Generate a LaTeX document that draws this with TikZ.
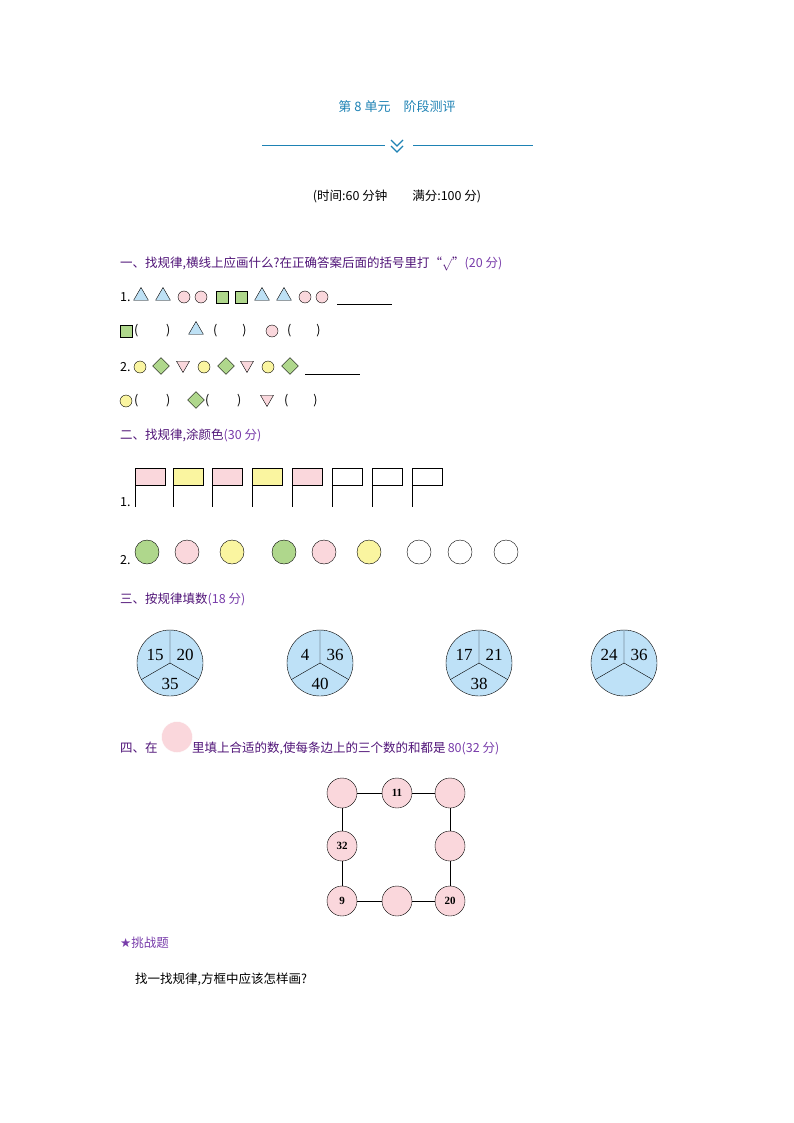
\documentclass[tikz,border=0pt]{standalone}
\usepackage{fontspec}
\setmainfont{Liberation Serif}
\newfontfamily\cjk{Noto Sans CJK SC}
\usetikzlibrary{shapes.geometric}
\definecolor{teal1}{RGB}{30,130,180}
\definecolor{purp}{RGB}{80,20,120}
\definecolor{purl}{RGB}{120,60,170}
\definecolor{tblue}{RGB}{190,225,245}
\definecolor{tpink}{RGB}{250,215,220}
\definecolor{tgreen}{RGB}{175,215,140}
\definecolor{tyel}{RGB}{250,245,160}
\definecolor{pieblue}{RGB}{190,225,247}
\tikzset{
 txt/.style={anchor=west,inner sep=0pt,font=\cjk\fontsize{12.5}{12.5}\selectfont},
 head/.style={txt,text=purp},
 tri/.style={regular polygon,regular polygon sides=3,draw,fill=tblue,minimum size=17pt,inner sep=0pt},
 itri/.style={regular polygon,regular polygon sides=3,shape border rotate=180,draw,fill=tpink,minimum size=15pt,inner sep=0pt},
 circ/.style={circle,draw,minimum size=12pt,inner sep=0pt},
 sq/.style={draw,fill=tgreen,minimum size=12pt,inner sep=0pt},
 dia/.style={diamond,draw,fill=tgreen,minimum size=17pt,inner sep=0pt},
 bigc/.style={circle,draw,minimum size=24pt,inner sep=0pt},
 gc/.style={circle,draw,fill=tpink,minimum size=30pt,inner sep=0pt,font=\bfseries\fontsize{11}{11}\selectfont},
 pnum/.style={font=\fontsize{17}{17}\selectfont,inner sep=0pt}
}
\begin{document}
\begin{tikzpicture}[x=1pt,y=-1pt]
\useasboundingbox (0,0) rectangle (794,1123);
\node[font=\cjk\fontsize{13}{13}\selectfont,text=teal1] (title) at (397,107) {第 8 单元\quad 阶段测评};
\coordinate (l1) at (262,145); \coordinate (l2) at (385,145);
\coordinate (l3) at (413,145); \coordinate (l4) at (533,145);
\draw[teal1,line width=0.8pt] (l1)--(l2) (l3)--(l4);
\draw[teal1,line width=1.2pt] (391,140)--(397,146)--(403,140) (391,146)--(397,152)--(403,146);
\node[font=\cjk\fontsize{12.5}{12.5}\selectfont] (time) at (397,196) {(时间:60 分钟\qquad 满分:100 分)};
\node[head] (h1) at (120,264) {一、找规律,横线上应画什么?在正确答案后面的括号里打“$\surd$”\textcolor{purl}{(20 分)}};
% row 1
\node[txt] (n1) at (120,297) {1.};
\node[tri] (a1) at (141,296) {}; \node[tri] (a2) at (163,296) {};
\node[circ,fill=tpink] (a3) at (184,297) {}; \node[circ,fill=tpink] (a4) at (201,297) {};
\node[sq] (a5) at (222,297) {}; \node[sq] (a6) at (241,297) {};
\node[tri] (a7) at (262,296) {}; \node[tri] (a8) at (284,296) {};
\node[circ,fill=tpink] (a9) at (305,297) {}; \node[circ,fill=tpink] (a10) at (322,297) {};
\coordinate (u1) at (337,304); \coordinate (u2) at (392,304); \draw (u1)--(u2);
% row 2
\node[sq] (b1) at (126,331) {}; \node[txt] (b1t) at (134,331) {(\qquad\ )};
\node[tri] (b2) at (196,330) {}; \node[txt] (b2t) at (213,331) {(\qquad )};
\node[circ,fill=tpink] (b3) at (272,331) {}; \node[txt] (b3t) at (287,331) {(\qquad )};
% row 3
\node[txt] (n2) at (120,367) {2.};
\node[circ,fill=tyel] (c1) at (140,367) {}; \node[dia] (c2) at (161,366) {}; \node[itri] (c3) at (183,365) {};
\node[circ,fill=tyel] (c4) at (204,367) {}; \node[dia] (c5) at (226,366) {}; \node[itri] (c6) at (247,365) {};
\node[circ,fill=tyel] (c7) at (268,367) {}; \node[dia] (c8) at (290,366) {};
\coordinate (v1) at (305,374); \coordinate (v2) at (360,374); \draw (v1)--(v2);
% row 4
\node[circ,fill=tyel] (d1) at (126,401) {}; \node[txt] (d1t) at (134,401) {(\qquad\ )};
\node[dia] (d2) at (196,400) {}; \node[txt] (d2t) at (205,401) {(\qquad\ )};
\node[itri] (d3) at (267,399) {}; \node[txt] (d3t) at (284,401) {(\qquad )};
% section 2
\node[head] (h2) at (120,435) {二、找规律,涂颜色\textcolor{purl}{(30 分)}};
\node[txt] (n3) at (120,502) {1.};
\foreach \x/\c [count=\i] in {135/tpink,173/tyel,212/tpink,252/tyel,292/tpink,332/white,372/white,412/white}{
  \draw[fill=\c] (\x,468) rectangle ++(30,17);
  \draw (\x,468)--(\x,507);
}
\node[txt] (n4) at (120,560) {2.};
\foreach \x/\c [count=\i] in {147/tgreen,187/tpink,232/tyel,284/tgreen,324/tpink,369/tyel,419/white,460/white,506/white}{
  \node[bigc,fill=\c] (e\i) at (\x,552) {};
}
% section 3
\node[head] (h3) at (120,599) {三、按规律填数\textcolor{purl}{(18 分)}};
\foreach \x/\p/\q/\r [count=\i] in {170/15/20/35,320/4/36/40,479/17/21/38,624/24/36/{}}{
  \node[circle,draw,fill=pieblue,minimum size=66pt,inner sep=0pt] (p\i) at (\x,663) {};
  \draw (p\i.center)--(p\i.north) (p\i.center)--(p\i.-30) (p\i.center)--(p\i.210);
  \node[pnum] at (\x-15,655) {\p};
  \node[pnum] at (\x+15,655) {\q};
  \node[pnum] at (\x,684) {\r};
}
% section 4
\node[head] (h4a) at (120,748) {四、在};
\node[circle,fill=tpink,draw=white,minimum size=31pt,inner sep=0pt] (pc) at (177,737) {};
\node[head] (h4b) at (192,748) {里填上合适的数,使每条边上的三个数的和都是\,\textcolor{purl}{80(32 分)}};
\coordinate (s1) at (342,793); \coordinate (s2) at (450,793);
\coordinate (s3) at (450,901); \coordinate (s4) at (342,901);
\draw (s1)--(s2)--(s3)--(s4)--cycle;
\node[gc] (g1) at (342,793) {}; \node[gc] (g2) at (397,793) {11}; \node[gc] (g3) at (450,793) {};
\node[gc] (g4) at (342,846) {32}; \node[gc] (g5) at (450,846) {};
\node[gc] (g6) at (342,901) {9}; \node[gc] (g7) at (397,901) {}; \node[gc] (g8) at (450,901) {20};
\node[head,text=purl] (star) at (120,943) {{\fontspec{DejaVu Sans}★}挑战题};
\node[txt] (q) at (135,979) {找一找规律,方框中应该怎样画?};
\end{tikzpicture}
\end{document}
